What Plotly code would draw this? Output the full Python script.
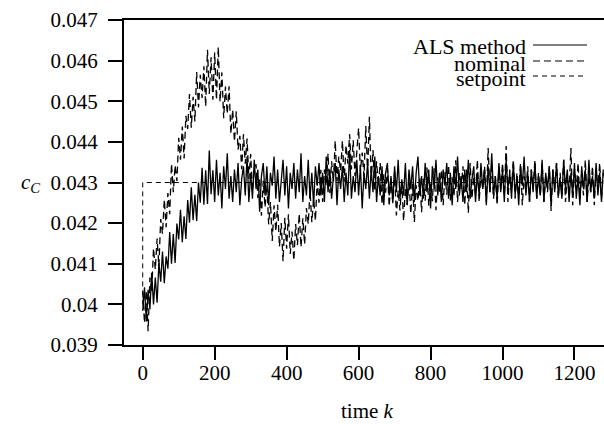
import plotly.graph_objects as go

als_method = [
    .03984,.04042,.03958,.04036,.03988,.04078,.04000,.04066,.04004,.04102,
    .04056,.04130,.04052,.04118,.04088,.04178,.04100,.04173,.04102,.04199,
    .04160,.04233,.04153,.04217,.04161,.04257,.04201,.04288,.04207,.04270,
    .04205,.04300,.04250,.04336,.04245,.04330,.04247,.04379,.04271,.04330,
    .04252,.04356,.04268,.04324,.04236,.04340,.04284,.04372,.04260,.04316,
    .04252,.04332,.04276,.04348,.04244,.04308,.04340,.04268,.04364,.04252,
    .04324,.04260,.04356,.04284,.04332,.04228,.04316,.04348,.04268,.04340,
    .04244,.04324,.04292,.04364,.04260,.04332,.04252,.04316,.04356,.04268,
    .04340,.04236,.04324,.04284,.04348,.04260,.04332,.04276,.04372,.04252,
    .04316,.04268,.04356,.04260,.04324,.04244,.04340,.04292,.04348,.04268,
    .04324,.04252,.04364,.04276,.04332,.04260,.04316,.04348,.04244,.04332,
    .04284,.04340,.04252,.04324,.04268,.04380,.04260,.04316,.04276,.04356,
    .04268,.04340,.04236,.04324,.04284,.04348,.04260,.04332,.04276,.04364,
    .04252,.04316,.04268,.04340,.04244,.04324,.04348,.04268,.04316,.04252,
    .04340,.04276,.04356,.04260,.04308,.04268,.04348,.04244,.04332,.04284,
    .04340,.04252,.04324,.04364,.04268,.04316,.04260,.04348,.04276,.04332,
    .04236,.04340,.04284,.04356,.04268,.04324,.04252,.04332,.04292,.04348,
    .04260,.04324,.04244,.04340,.04284,.04364,.04268,.04316,.04252,.04332,
    .04276,.04356,.04260,.04308,.04340,.04252,.04324,.04268,.04348,.04284,
    .04332,.04244,.04340,.04276,.04372,.04268,.04316,.04260,.04348,.04276,
    .04332,.04252,.04356,.04284,.04324,.04260,.04348,.04268,.04316,.04244,
    .04340,.04292,.04364,.04268,.04324,.04252,.04332,.04276,.04348,.04260,
    .04316,.04268,.04356,.04252,.04324,.04284,.04340,.04244,.04332,.04276,
    .04348,.04268,.04308,.04260,.04356,.04284,.04332,.04252,.04324,.04268,
    .04348,.04260,.04316,.04244,.04340,.04284,.04332,.04252,.04356,.04276,
    .04316,.04260,.04348,.04268,.04324,.04252,.04332,
]

nominal = [
    .04032,.03954,.04034,.03934,.04066,.04030,.04138,.04086,.04162,.04094,
    .04210,.04174,.04258,.04190,.04274,.04222,.04346,.04276,.04342,.04304,
    .04410,.04356,.04438,.04359,.04464,.04432,.04518,.04435,.04511,.04450,
    .04572,.04485,.04565,.04508,.04586,.04487,.04627,.04518,.04608,.04504,
    .04620,.04504,.04634,.04499,.04571,.04458,.04536,.04469,.04537,.04420,
    .04479,.04401,.04475,.04381,.04415,.04333,.04419,.04346,.04408,.04309,
    .04370,.04279,.04332,.04345,.04262,.04308,.04218,.04304,.04239,.04294,
    .04197,.04252,.04156,.04244,.04180,.04245,.04142,.04200,.04106,.04213,
    .04137,.04222,.04124,.04179,.04108,.04198,.04146,.04223,.04141,.04212,
    .04148,.04237,.04198,.04280,.04202,.04260,.04206,.04304,.04250,.04331,
    .04252,.04332,.04292,.04371,.04274,.04352,.04302,.04403,.04304,.04364,
    .04328,.04403,.04302,.04392,.04346,.04419,.04332,.04404,.04316,.04387,
    .04434,.04328,.04374,.04315,.04439,.04323,.04462,.04305,.04380,.04278,
    .04352,.04290,.04348,.04246,.04320,.04275,.04334,.04241,.04309,.04249,
    .04326,.04219,.04281,.04231,.04302,.04205,.04285,.04245,.04310,.04223,
    .04297,.04203,.04293,.04255,.04313,.04227,.04309,.04255,.04337,.04243,
    .04301,.04254,.04335,.04232,.04313,.04274,.04331,.04244,.04325,.04270,
    .04343,.04256,.04313,.04266,.04355,.04252,.04324,.04284,.04340,.04244,
    .04332,.04225,.04348,.04260,.04316,.04268,.04356,.04252,.04324,.04284,
    .04340,.04252,.04385,.04276,.04348,.04260,.04316,.04244,.04340,.04284,
    .04348,.04268,.04390,.04252,.04332,.04284,.04356,.04260,.04324,.04268,
    .04348,.04244,.04316,.04276,.04340,.04252,.04332,.04284,.04356,.04260,
    .04324,.04268,.04348,.04252,.04316,.04276,.04340,.04230,.04332,.04284,
    .04348,.04260,.04324,.04268,.04356,.04252,.04316,.04276,.04385,.04244,
    .04332,.04284,.04348,.04260,.04324,.04268,.04356,.04252,.04316,.04276,
    .04340,.04244,.04332,.04284,.04348,.04260,.04324,
]

setpoint_k = [0, 0, 1282]
setpoint = [0.0400, 0.0430, 0.0430]

k_als = list(range(0, 5 * len(als_method), 5))
k_nom = list(range(0, 5 * len(nominal), 5))

x_ticks = [0, 200, 400, 600, 800, 1000, 1200]
y_ticks = [0.039, 0.040, 0.041, 0.042, 0.043, 0.044, 0.045, 0.046, 0.047]
y_ticktext = ["0.039", "0.04", "0.041", "0.042", "0.043", "0.044", "0.045", "0.046", "0.047"]

legend_names = ["ALS method", "nominal", "setpoint"]
legend_dash = ["solid", "7px,4px", "5px,4px"]

FONT = "Liberation Serif, Times New Roman, serif"

fig = go.Figure()
fig.add_trace(go.Scatter(x=k_als, y=als_method, mode="lines", name=legend_names[0],
                         line=dict(color="black", width=1.3, dash=legend_dash[0])))
fig.add_trace(go.Scatter(x=k_nom, y=nominal, mode="lines", name=legend_names[1],
                         line=dict(color="black", width=1.3, dash=legend_dash[1])))
fig.add_trace(go.Scatter(x=setpoint_k, y=setpoint, mode="lines", name=legend_names[2],
                         line=dict(color="black", width=1, dash=legend_dash[2])))

W, H = 604, 424
L, R, T, B = 124, 0, 20, 79
pw, ph = W - L - R, H - T - B

def px_x(x):
    return (x - L) / pw

def px_y(y):
    return (H - B - y) / ph

# legend drawn gnuplot-style: right-aligned text with the line sample to its right
rows_text = [47, 63, 78]
rows_line = [45, 61, 76]
for name, dash, ty, ly in zip(legend_names, legend_dash, rows_text, rows_line):
    fig.add_annotation(xref="paper", yref="paper", x=px_x(528), y=px_y(ty),
                       xanchor="right", yanchor="middle", text=name, showarrow=False,
                       font=dict(family=FONT, size=22, color="black"))
    fig.add_shape(type="line", xref="paper", yref="paper",
                  x0=px_x(533), x1=px_x(587), y0=px_y(ly), y1=px_y(ly),
                  line=dict(color="black", width=1, dash=dash))

fig.add_annotation(xref="paper", yref="y", x=px_x(30), y=0.043,
                   xanchor="center", yanchor="middle",
                   text="<i>c</i><sub><i>C</i></sub>", showarrow=False,
                   font=dict(family=FONT, size=21, color="black"))
fig.add_annotation(xref="paper", yref="paper", x=px_x(367), y=px_y(411),
                   xanchor="center", yanchor="middle",
                   text="time <i>k</i>", showarrow=False,
                   font=dict(family=FONT, size=21, color="black"))

fig.update_layout(
    width=W, height=H,
    margin=dict(l=L, r=R, t=T, b=B, pad=0),
    paper_bgcolor="white", plot_bgcolor="white",
    showlegend=False,
    font=dict(family=FONT, size=21, color="black"),
    xaxis=dict(range=[-52, 1282], tickvals=x_ticks, ticks="outside", ticklen=13,
               tickwidth=2, tickcolor="black", showline=True, linecolor="black",
               linewidth=2, mirror=True, showgrid=False, zeroline=False,
               ticklabelstandoff=-5,
               tickfont=dict(family=FONT, size=21, color="black")),
    yaxis=dict(range=[0.039, 0.047], tickvals=y_ticks, ticktext=y_ticktext,
               ticks="outside", ticklen=14, tickwidth=2, tickcolor="black",
               showline=True, linecolor="black", linewidth=2, mirror=False,
               showgrid=False, zeroline=False, ticklabelstandoff=6,
               tickfont=dict(family=FONT, size=21, color="black")),
)

fig.write_html("out.html", config={"displayModeBar": False},
               post_script="document.body.style.margin='0px';")
